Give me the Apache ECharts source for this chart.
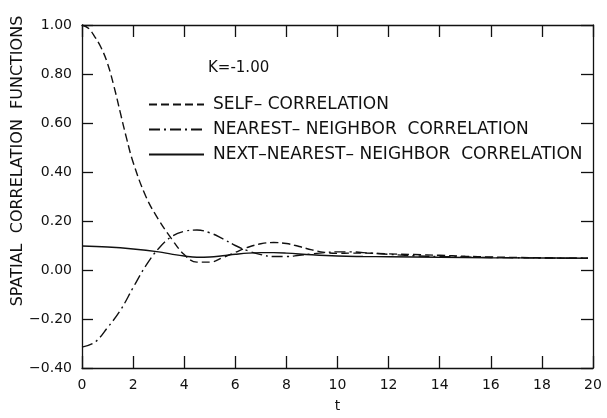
<!DOCTYPE html>
<html><head><meta charset="utf-8">
<script src="https://cdn.jsdelivr.net/npm/echarts@6/dist/echarts.min.js"></script>
<style>html,body{margin:0;padding:0;background:#fff}#c{width:607px;height:418px}</style>
</head><body><div id="c"></div>
<script>
var xTicks = [0,2,4,6,8,10,12,14,16,18,20];
var yTicks = [-0.40,-0.20,0.00,0.20,0.40,0.60,0.80,1.00];
var seriesNames = ['SELF– CORRELATION','NEAREST– NEIGHBOR  CORRELATION','NEXT–NEAREST– NEIGHBOR  CORRELATION'];
var kLabel = 'K=-1.00';
var yTitle = 'SPATIAL  CORRELATION  FUNCTIONS';
var xTitle = 't';

var selfT = [0,0.25,0.5,0.75,1,1.25,1.5,1.75,2,2.5,3,3.5,4,4.5,5,5.5,6,6.5,7,7.5,8,8.5,9,9.5,10,10.5,11,12,13,14,15,16,17,18,19,19.8];
var selfV = [1.0,0.987,0.952,0.907,0.843,0.75,0.642,0.535,0.44,0.30,0.205,0.128,0.063,0.032,0.032,0.05,0.072,0.093,0.107,0.112,0.108,0.096,0.082,0.072,0.068,0.069,0.069,0.066,0.063,0.06,0.056,0.053,0.051,0.05,0.048,0.048];
var nnT = [0,0.5,1,1.5,2,2.5,3,3.5,4,4.5,5,5.5,6,6.5,7,7.5,8,8.5,9,9.5,10,10.5,11,12,13,14,15,16,17,18,19,19.8];
var nnV = [-0.315,-0.295,-0.235,-0.165,-0.072,0.018,0.088,0.136,0.158,0.163,0.152,0.128,0.1,0.078,0.063,0.055,0.055,0.06,0.066,0.071,0.074,0.074,0.071,0.064,0.058,0.055,0.053,0.051,0.05,0.049,0.048,0.048];
var nnnT = [0,1,2,3,3.5,4,4.5,5,5.5,6,6.5,7,7.5,8,9,10,11,12,14,16,18,19.8];
var nnnV = [0.098,0.094,0.086,0.074,0.065,0.057,0.052,0.053,0.058,0.064,0.069,0.071,0.071,0.069,0.062,0.057,0.055,0.054,0.052,0.05,0.049,0.048];

function zip(a,b){return a.map(function(v,i){return [v,b[i]];});}
var FONT = 'DejaVu Sans';
var INK = '#111';
var chart = echarts.init(document.getElementById('c'));
var lineBase = {type:'line', smooth:0.4, symbol:'none', silent:true};
function axisCommon(len){
  return {
    axisLine:{onZero:false, lineStyle:{color:INK,width:1.3}},
    axisTick:{inside:true,length:len,lineStyle:{color:INK,width:1.3}},
    splitLine:{show:false}
  };
}
chart.setOption({
  animation:false,
  backgroundColor:'#fff',
  grid:{left:82,right:14,top:25,bottom:40},
  legend:{
    orient:'vertical', left:148, top:96, padding:0, itemWidth:55, itemHeight:14, itemGap:8,
    itemStyle:{opacity:0, color:'rgba(0,0,0,0)', borderWidth:0},
    textStyle:{fontFamily:FONT,fontSize:17,color:INK,lineHeight:14,padding:[0,0,0,4]},
    data:seriesNames
  },
  graphic:[
    {type:'text', left:208, top:61, style:{text:kLabel, font:'15px '+FONT, fill:INK}},
    {type:'text', x:18, y:161, rotation:Math.PI/2, style:{text:yTitle, font:'16px '+FONT, fill:INK, textAlign:'center', textVerticalAlign:'middle'}}
  ],
  xAxis:[Object.assign({
    type:'value', min:0, max:20, interval:2, position:'bottom',
    name:xTitle, nameLocation:'middle', nameGap:31, nameTextStyle:{fontFamily:FONT,fontSize:14,color:INK},
    axisLabel:{fontFamily:FONT,fontSize:14,color:INK,margin:10}
  }, axisCommon(12)), Object.assign({
    type:'value', min:0, max:20, interval:2, position:'top',
    axisLabel:{show:false}
  }, axisCommon(12))],
  yAxis:[Object.assign({
    type:'value', min:-0.4, max:1.0, interval:0.2, position:'left',
    axisLabel:{fontFamily:FONT,fontSize:14,color:INK,margin:10,formatter:function(v){return v.toFixed(2).replace('-','−');}}
  }, axisCommon(11)), Object.assign({
    type:'value', min:-0.4, max:1.0, interval:0.2, position:'right',
    axisLabel:{show:false}
  }, axisCommon(12))],
  series:[
    Object.assign({}, lineBase, {name:seriesNames[0], data:zip(selfT,selfV), lineStyle:{color:INK,width:1.4,type:[8,4]}, itemStyle:{color:INK}}),
    Object.assign({}, lineBase, {name:seriesNames[1], data:zip(nnT,nnV), lineStyle:{color:INK,width:1.4,type:[11,4,2,4]}, itemStyle:{color:INK}}),
    Object.assign({}, lineBase, {name:seriesNames[2], data:zip(nnnT,nnnV), lineStyle:{color:INK,width:1.4,type:'solid'}, itemStyle:{color:INK}})
  ]
});
</script></body></html>
